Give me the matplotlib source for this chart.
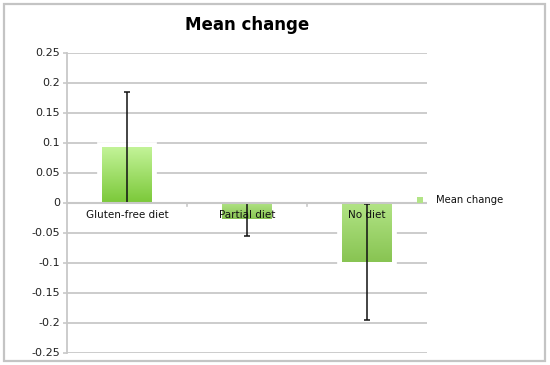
import numpy as np
import matplotlib
matplotlib.use("Agg")
import matplotlib.pyplot as plt
from matplotlib.colors import LinearSegmentedColormap
from matplotlib.patches import Rectangle

categories = ["Gluten-free diet", "Partial diet", "No diet"]
values = [0.092, -0.028, -0.099]
errors = [0.093, 0.027, 0.097]
yticks = [0.25, 0.2, 0.15, 0.1, 0.05, 0, -0.05, -0.1, -0.15, -0.2, -0.25]
ytick_labels = ["0.25", "0.2", "0.15", "0.1", "0.05", "0", "-0.05", "-0.1", "-0.15", "-0.2", "-0.25"]
title = "Mean change"
series_name = "Mean change"

fig = plt.figure(figsize=(5.5, 3.65), dpi=100)
fig.patch.set_facecolor("white")
# outer chart border
fig.patches.append(Rectangle((4/550, 4/365), 541/550, 357/365, transform=fig.transFigure,
                             fill=False, edgecolor="#c4c4c4", linewidth=1.6))

ax = fig.add_axes([67/550, 1-352.5/365, 360/550, 300/365])
ax.set_xlim(-0.5, 2.5)
ax.set_ylim(-0.25, 0.25)
ax.set_axisbelow(True)

grid_c = "#c8c8c8"
ax.set_yticks(yticks)
ax.set_yticklabels(ytick_labels, fontsize=8, color="#222222")
ax.yaxis.grid(True, color=grid_c, linewidth=1.3)
ax.tick_params(axis="y", length=3, color=grid_c, width=1.2, pad=2)
ax.set_xticks([-0.5, 0.5, 1.5, 2.5])
ax.set_xticklabels([])
ax.tick_params(axis="x", length=0)
for s in ["top", "right", "bottom"]:
    ax.spines[s].set_visible(False)
ax.spines["left"].set_color(grid_c)
ax.spines["left"].set_linewidth(1.3)

x = np.arange(len(categories))
width = 0.41
# white glow around bars
ax.bar(x, values, width=width, color="white", edgecolor="white", linewidth=7, zorder=1.5)
bars = ax.bar(x, values, width=width, color="#a8e070", edgecolor="none", zorder=2)

cm_pos = LinearSegmentedColormap.from_list("pos", ["#c4f49a", "#7cc93a"])
cm_neg = LinearSegmentedColormap.from_list("neg", ["#b2e486", "#88c452"])
grad = np.linspace(0, 1, 256).reshape(-1, 1)
for b, v in zip(bars, values):
    x0, y0 = b.get_x(), b.get_y()
    w, h = b.get_width(), b.get_height()
    ylo, yhi = min(y0, y0 + h), max(y0, y0 + h)
    cmap = cm_pos if v >= 0 else cm_neg
    im = ax.imshow(grad, cmap=cmap, extent=[x0, x0 + w, ylo, yhi], aspect="auto",
                   origin="upper", zorder=2.1)
    im.set_clip_path(b)
    b.set_facecolor("none")

ax.set_xlim(-0.5, 2.5)
ax.set_ylim(-0.25, 0.25)

ax.errorbar(x, values, yerr=errors, fmt="none", ecolor="#111111", elinewidth=1.1,
            capsize=2.5, capthick=1.1, zorder=3)

# zero axis line with category ticks
ax.axhline(0, color=grid_c, linewidth=1.5, zorder=3.2)
for xb in [0.5, 1.5]:
    ax.plot([xb, xb], [0, -0.006], color=grid_c, linewidth=1.2, zorder=3.2)

for xi, c in zip(x, categories):
    ax.text(xi, -0.021, c, ha="center", va="center", fontsize=7.5, color="#111111", zorder=4)

ax.set_title(title, fontsize=12, fontweight="bold", pad=16)

# legend
fig.patches.append(Rectangle((417/550, 1-203/365), 6/550, 6/365, transform=fig.transFigure,
                             facecolor="#b2e486", edgecolor="none"))
fig.text(436/550, 1-200/365, series_name, fontsize=7.2, va="center", ha="left", color="#111111")

fig.savefig("out.png", dpi=100)
